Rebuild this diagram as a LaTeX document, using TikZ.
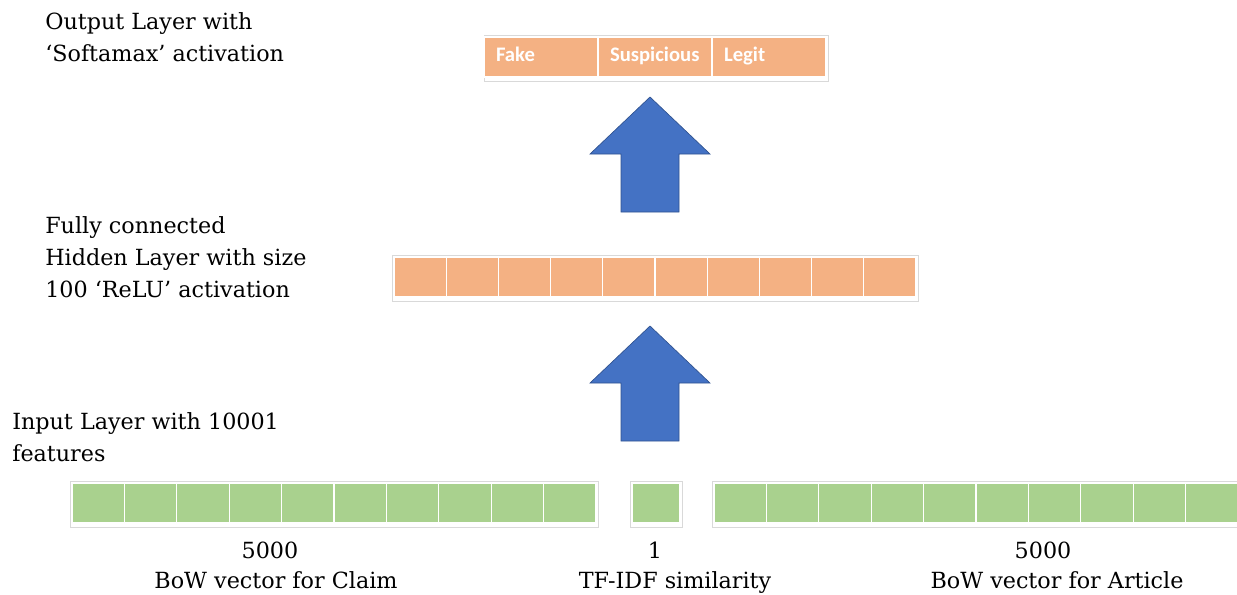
\documentclass[tikz,border=0pt]{standalone}
\usepackage{fontspec}
\setmainfont{DejaVu Serif}
\newfontfamily\cellfont{Carlito}
\usetikzlibrary{positioning}

\definecolor{peach}{HTML}{F4B183}
\definecolor{leaf}{HTML}{A9D18E}
\definecolor{arrowblue}{HTML}{4472C4}
\definecolor{arrowedge}{HTML}{2F528F}

\tikzset{
    unit/.style={draw=white, line width=1pt, inner sep=0pt, outer sep=0pt, minimum height=30pt},
    hidcell/.style={unit, fill=peach, minimum width=39.15pt},
    inpcell/.style={unit, fill=leaf, minimum width=39.3pt},
    outcell/.style={unit, fill=peach, minimum width=85.5pt, inner xsep=9pt, text width=67.5pt, align=left,
        text height=10.5pt, text depth=4.5pt,
        text=white, font=\cellfont\bfseries\fontsize{15.5}{17}\selectfont},
    frame/.style={draw=black!15, line width=0.6pt},
    layertext/.style={anchor=base west, align=left, inner sep=0pt, font=\fontsize{16.7}{24}\selectfont},
    captext/.style={anchor=base, inner sep=0pt, font=\fontsize{16.7}{24}\selectfont},
    blockarrow/.style={fill=arrowblue, draw=arrowedge, line width=0.5pt}
}

\begin{document}
\begin{tikzpicture}[x=0.75pt, y=-0.75pt]
    \useasboundingbox (0,0) rectangle (1237,594);

    % output layer
    \draw[frame] (484,35) rectangle (828,81);
    \foreach \i/\name in {0/Fake, 1/Suspicious, 2/Legit}
        \node[outcell] (out\i) at ({541+114*\i},57) {\name};

    % hidden layer
    \draw[frame] (392,255) rectangle (918,301);
    \foreach \i in {0,...,9}
        \node[hidcell] (hid\i) at ({420.1+52.2*\i},277) {};

    % input layer: claim, similarity, article
    \draw[frame] (70,481) rectangle (598,527);
    \foreach \i in {0,...,9}
        \node[inpcell] (claim\i) at ({98.2+52.4*\i},503) {};
    \draw[frame] (630,481) rectangle (682,527);
    \node[inpcell, minimum width=36pt] (sim) at (656,503) {};
    \draw[frame] (712,481) rectangle (1250,527);
    \foreach \i in {0,...,9}
        \node[inpcell] (art\i) at ({740.2+52.4*\i},503) {};

    % block arrows between the layers
    \foreach \t/\b in {97/212, 326/441}
        \draw[blockarrow] (650,\t) -- (710,\t+57) -- (679,\t+57) -- (679,\b)
            -- (621,\b) -- (621,\t+57) -- (590,\t+57) -- cycle;

    % layer descriptions (base = last line)
    \node[layertext] (outtxt) at (45,61) {Output Layer with\\`Softamax' activation};
    \node[layertext] (hidtxt) at (45,297) {Fully connected\\Hidden Layer with size\\100 `ReLU' activation};
    \node[layertext] (inptxt) at (12,461) {Input Layer with 10001\\features};

    % input sizes
    \node[captext] (nclaim) at (270,558) {5000};
    \node[captext] (cclaim) at (276,588) {BoW vector for Claim};
    \node[captext] (nsim) at (655,558) {1};
    \node[captext] (csim) at (675,588) {TF-IDF similarity};
    \node[captext] (nart) at (1043,558) {5000};
    \node[captext] (cart) at (1057,588) {BoW vector for Article};
\end{tikzpicture}
\end{document}
